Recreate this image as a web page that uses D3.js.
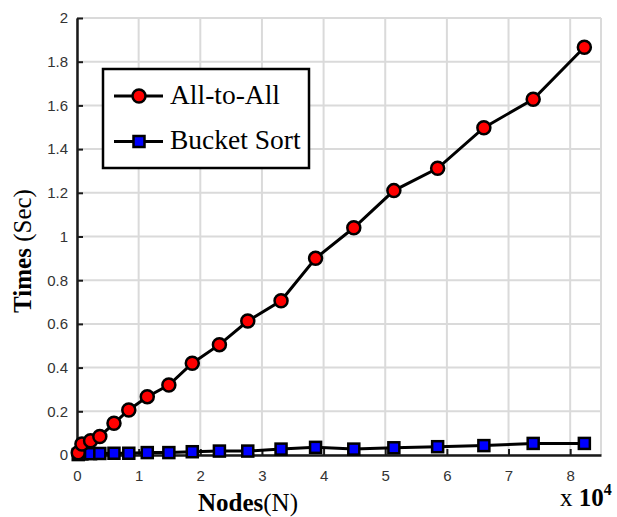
<!DOCTYPE html>
<html>
<head>
<meta charset="utf-8">
<script src="https://cdnjs.cloudflare.com/ajax/libs/d3/7.8.5/d3.min.js"></script>
<style>
  body { margin: 0; background: #fff; }
  svg { display: block; }
</style>
</head>
<body>
<div id="chart"></div>
<script>
// x values in units of 10^4 nodes
var nodes = [0.02, 0.08, 0.22, 0.37, 0.6, 0.84, 1.14, 1.49, 1.87, 2.31, 2.77, 3.31, 3.87, 4.49, 5.14, 5.85, 6.6, 7.4, 8.23];
var allToAll = [0.01, 0.05, 0.065, 0.085, 0.145, 0.206, 0.267, 0.32, 0.42, 0.505, 0.613, 0.706, 0.9, 1.04, 1.21, 1.312, 1.498, 1.628, 1.866];
var bucketSort = [0.002, 0.005, 0.006, 0.007, 0.008, 0.008, 0.011, 0.011, 0.015, 0.018, 0.018, 0.027, 0.035, 0.027, 0.033, 0.038, 0.043, 0.053, 0.053];
var xTicks = [0, 1, 2, 3, 4, 5, 6, 7, 8];
var yTicks = [0, 0.2, 0.4, 0.6, 0.8, 1, 1.2, 1.4, 1.6, 1.8, 2];
var seriesNames = ["All-to-All", "Bucket Sort"];

var width = 617, height = 517;
var margin = {top: 18, right: 16, bottom: 62, left: 77};
var w = width - margin.left - margin.right;
var h = height - margin.top - margin.bottom;

var svg = d3.select("#chart").append("svg").attr("width", width).attr("height", height);
var g = svg.append("g").attr("transform", "translate(" + margin.left + "," + margin.top + ")");

var x = d3.scaleLinear().domain([0, 8.5]).range([0, w]);
var y = d3.scaleLinear().domain([0, 2]).range([h, 0]);

// grid
g.selectAll(".vgrid").data(xTicks.concat([8.5])).enter().append("line")
  .attr("x1", function(d) { return x(d); }).attr("x2", function(d) { return x(d); })
  .attr("y1", 0).attr("y2", h)
  .attr("stroke", "#dadada").attr("stroke-width", 2);
g.selectAll(".hgrid").data(yTicks).enter().append("line")
  .attr("y1", function(d) { return y(d); }).attr("y2", function(d) { return y(d); })
  .attr("x1", 0).attr("x2", w)
  .attr("stroke", "#dadada").attr("stroke-width", 2);

// axes (ticks pointing inward)
var xAxis = g.append("g").attr("transform", "translate(0," + h + ")")
  .call(d3.axisBottom(x).tickValues(xTicks).tickSizeInner(-6).tickSizeOuter(0).tickPadding(15).tickFormat(d3.format("d")));
var yAxis = g.append("g")
  .call(d3.axisLeft(y).tickValues(yTicks).tickSizeInner(-6).tickSizeOuter(0).tickPadding(9).tickFormat(function(d) { return d3.format("~g")(d); }));
[xAxis, yAxis].forEach(function(a) {
  a.select(".domain").attr("stroke", "#1a1a1a").attr("stroke-width", 2.5);
  a.selectAll(".tick line").attr("stroke", "#1a1a1a").attr("stroke-width", 2);
  a.selectAll(".tick text").attr("fill", "#333").style("font-family", "'Liberation Sans', Arial, sans-serif").style("font-size", "15px");
});

// series
var line = d3.line().x(function(d) { return x(d[0]); }).y(function(d) { return y(d[1]); });
var redData = nodes.map(function(n, i) { return [n, allToAll[i]]; });
var blueData = nodes.map(function(n, i) { return [n, bucketSort[i]]; });

g.append("path").datum(blueData).attr("d", line).attr("fill", "none").attr("stroke", "#000").attr("stroke-width", 3);
g.selectAll(".sq").data(blueData).enter().append("rect")
  .attr("x", function(d) { return x(d[0]) - 5.5; }).attr("y", function(d) { return y(d[1]) - 5.5; })
  .attr("width", 11).attr("height", 11)
  .attr("fill", "#0000ff").attr("stroke", "#000").attr("stroke-width", 2.5);

g.append("path").datum(redData).attr("d", line).attr("fill", "none").attr("stroke", "#000").attr("stroke-width", 3);
g.selectAll(".pt").data(redData).enter().append("circle")
  .attr("cx", function(d) { return x(d[0]); }).attr("cy", function(d) { return y(d[1]); })
  .attr("r", 6.5).attr("fill", "#ff0000").attr("stroke", "#000").attr("stroke-width", 2.5);

// legend
var leg = svg.append("g");
leg.append("rect").attr("x", 103).attr("y", 69).attr("width", 206).attr("height", 99)
  .attr("fill", "#fff").attr("stroke", "#000").attr("stroke-width", 2.5);
var legY = [96, 141.5];
seriesNames.forEach(function(name, i) {
  leg.append("line").attr("x1", 114).attr("x2", 163).attr("y1", legY[i]).attr("y2", legY[i])
    .attr("stroke", "#000").attr("stroke-width", 3);
  if (i === 0) {
    leg.append("circle").attr("cx", 139).attr("cy", legY[i]).attr("r", 6.5)
      .attr("fill", "#ff0000").attr("stroke", "#000").attr("stroke-width", 2.5);
  } else {
    leg.append("rect").attr("x", 133.5).attr("y", legY[i] - 5.5).attr("width", 11).attr("height", 11)
      .attr("fill", "#0000ff").attr("stroke", "#000").attr("stroke-width", 2.5);
  }
  leg.append("text").attr("x", 170).attr("y", legY[i] + 7.5)
    .style("font-family", "'Liberation Serif', 'Times New Roman', serif").style("font-size", "27.5px")
    .attr("fill", "#000").text(name);
});

// axis titles
var ylab = svg.append("text").attr("transform", "translate(31,251) rotate(-90)")
  .attr("text-anchor", "middle")
  .style("font-family", "'Liberation Serif', 'Times New Roman', serif").style("font-size", "25px");
ylab.append("tspan").style("font-weight", "bold").text("Times");
ylab.append("tspan").text(" (Sec)");

var xlab = svg.append("text").attr("x", 248).attr("y", 511).attr("text-anchor", "middle")
  .style("font-family", "'Liberation Serif', 'Times New Roman', serif").style("font-size", "25px");
xlab.append("tspan").style("font-weight", "bold").text("Nodes");
xlab.append("tspan").text("(N)");

var exp = svg.append("text").attr("x", 560).attr("y", 506)
  .style("font-family", "'Liberation Serif', 'Times New Roman', serif").style("font-size", "25px");
exp.append("tspan").text("x ");
exp.append("tspan").style("font-weight", "bold").text("10");
exp.append("tspan").style("font-weight", "bold").style("font-size", "16px").attr("dy", -11).text("4");
</script>
</body>
</html>
